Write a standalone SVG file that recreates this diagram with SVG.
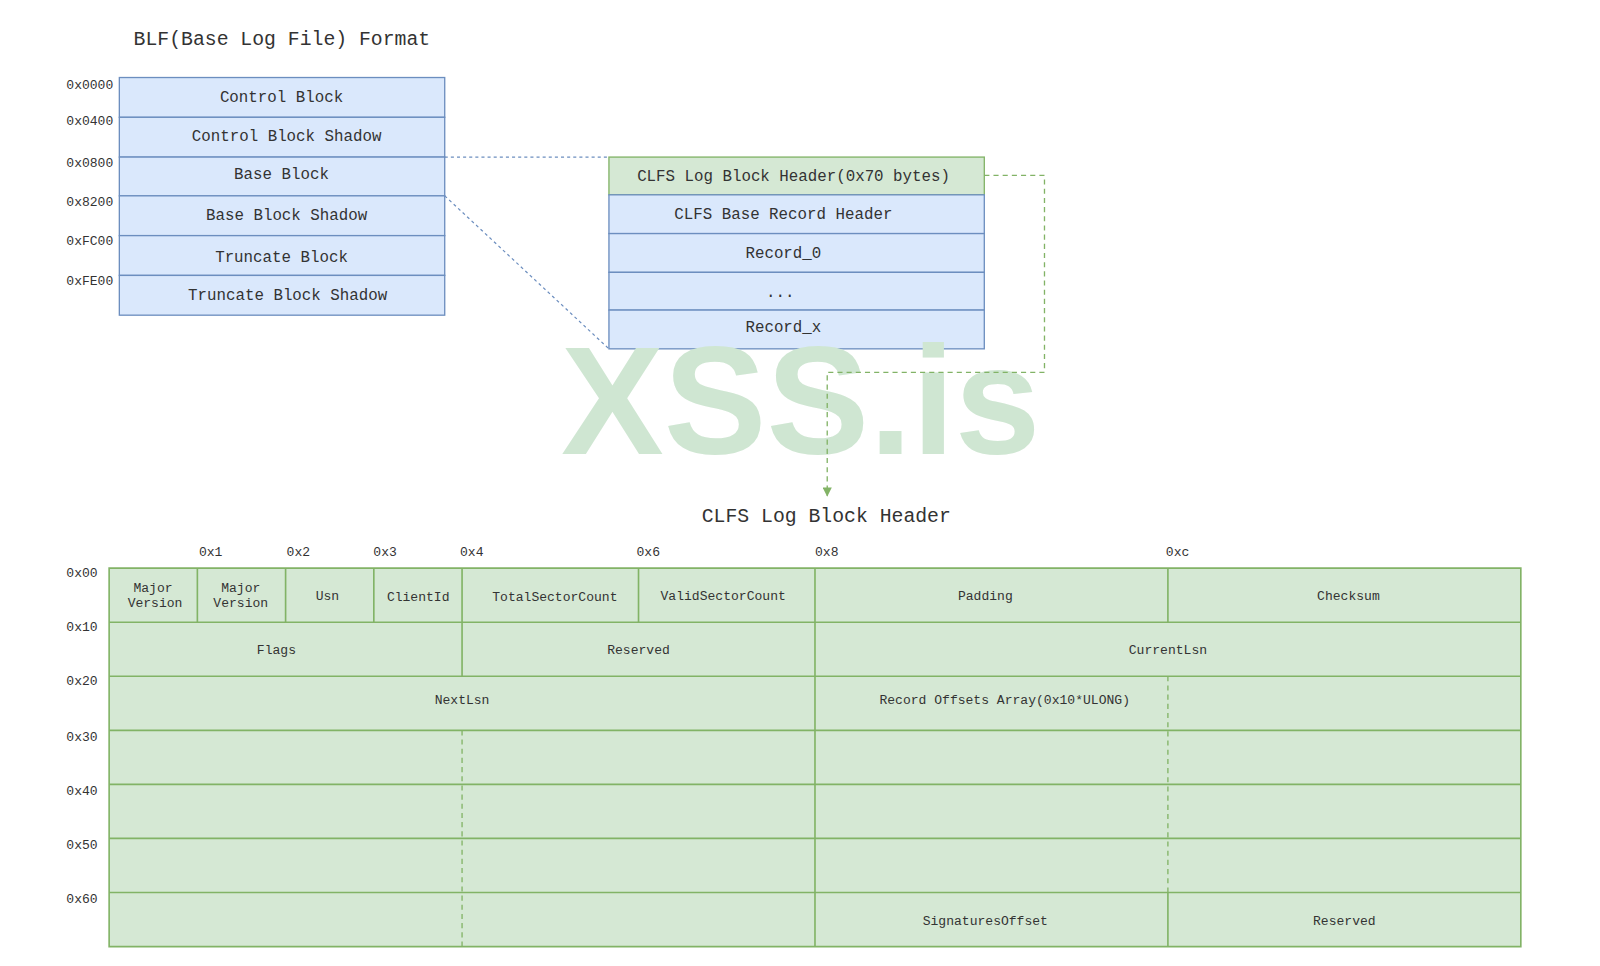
<svg xmlns="http://www.w3.org/2000/svg" width="1600" height="966" viewBox="0 0 1600 966">
<defs>
<style>
.t{font-family:"Liberation Mono","Courier New",monospace;fill:#333333;text-anchor:middle}
.m{font-size:15.5px}
.s{font-size:12.8px}
.l{font-size:12.8px;text-anchor:start}
.h{font-size:19.4px;text-anchor:start}
.blue{fill:#dae8fc;stroke:#6c8ebf;stroke-width:1.3}
.green{fill:#d5e8d4;stroke:#82b366;stroke-width:1.3}
.gl{stroke:#82b366;stroke-width:1.6;fill:none}
.gd{stroke:#82b366;stroke-width:1.3;fill:none;stroke-dasharray:5 4}
.wm{font-family:"Liberation Sans",Arial,sans-serif;font-weight:bold;font-size:151px;fill:#cfe6d2}
</style>
<marker id="ga" viewBox="0 0 10 10" refX="9" refY="5" markerWidth="9" markerHeight="9" markerUnits="userSpaceOnUse" orient="auto">
<path d="M0,0 L10,5 L0,10 z" fill="#82b366"/>
</marker>
</defs>
<rect width="1600" height="966" fill="#ffffff"/>
<g id="diagram" transform="scale(1.02)">

<text class="t h" x="131" y="44">BLF(Base Log File) Format</text>

<g id="blf-offsets" class="t">
<text class="l" x="65" y="87">0x0000</text>
<text class="l" x="65" y="123">0x0400</text>
<text class="l" x="65" y="164">0x0800</text>
<text class="l" x="65" y="202">0x8200</text>
<text class="l" x="65" y="240">0xFC00</text>
<text class="l" x="65" y="279">0xFE00</text>
</g>

<g id="control-block"><rect class="blue" x="117" y="76" width="319" height="39"/><text class="t m" x="276" y="100">Control Block</text></g>
<g id="control-block-shadow"><rect class="blue" x="117" y="115" width="319" height="39"/><text class="t m" x="281" y="138">Control Block Shadow</text></g>
<g id="base-block"><rect class="blue" x="117" y="154" width="319" height="38"/><text class="t m" x="276" y="175">Base Block</text></g>
<g id="base-block-shadow"><rect class="blue" x="117" y="192" width="319" height="39"/><text class="t m" x="281" y="216">Base Block Shadow</text></g>
<g id="truncate-block"><rect class="blue" x="117" y="231" width="319" height="39"/><text class="t m" x="276" y="257">Truncate Block</text></g>
<g id="truncate-block-shadow"><rect class="blue" x="117" y="270" width="319" height="39"/><text class="t m" x="282" y="294">Truncate Block Shadow</text></g>

<g id="clfs-log-block-header-row"><rect class="green" x="597" y="154" width="368" height="37"/><text class="t m" x="778" y="177">CLFS Log Block Header(0x70 bytes)</text></g>
<g id="clfs-base-record-header"><rect class="blue" x="597" y="191" width="368" height="38"/><text class="t m" x="768" y="215">CLFS Base Record Header</text></g>
<g id="record-0"><rect class="blue" x="597" y="229" width="368" height="38"/><text class="t m" x="768" y="253">Record_0</text></g>
<g id="record-ellipsis"><rect class="blue" x="597" y="267" width="368" height="37"/><text class="t m" x="765" y="291">...</text></g>
<g id="record-x"><rect class="blue" x="597" y="304" width="368" height="38"/><text class="t m" x="768" y="325">Record_x</text></g>

<text class="wm" x="550" y="445" textLength="470" lengthAdjust="spacing">XSS.is</text>

<g id="connectors">
<path d="M436,154 L597,154" stroke="#6c8ebf" stroke-width="1.2" stroke-dasharray="3 3" fill="none"/>
<path d="M436,192 L597,342" stroke="#6c8ebf" stroke-width="1.2" stroke-dasharray="3 3" fill="none"/>
<path d="M965,172 L1024,172 L1024,365 L811,365 L811,486" stroke="#82b366" stroke-width="1.3" stroke-dasharray="5 4" fill="none" marker-end="url(#ga)"/>
</g>

<text class="t h" x="688" y="512">CLFS Log Block Header</text>

<g id="column-offsets" class="t">
<text class="l" x="195" y="545">0x1</text>
<text class="l" x="281" y="545">0x2</text>
<text class="l" x="366" y="545">0x3</text>
<text class="l" x="451" y="545">0x4</text>
<text class="l" x="624" y="545">0x6</text>
<text class="l" x="799" y="545">0x8</text>
<text class="l" x="1143" y="545">0xc</text>
</g>
<g id="row-offsets" class="t">
<text class="l" x="65" y="566">0x00</text>
<text class="l" x="65" y="619">0x10</text>
<text class="l" x="65" y="672">0x20</text>
<text class="l" x="65" y="726">0x30</text>
<text class="l" x="65" y="779">0x40</text>
<text class="l" x="65" y="832">0x50</text>
<text class="l" x="65" y="885">0x60</text>
</g>

<g id="header-table">
<rect x="107" y="557" width="1384" height="371" fill="#d5e8d4"/>
<g id="grid">
<path class="gl" d="M107,557 H1491 V928 H107 Z"/>
<path class="gl" d="M107,610 H1491 M107,663 H1491 M107,716 H1491 M107,769 H1491 M107,822 H1491 M107,875 H1491"/>
<path class="gl" d="M193.5,557 V610 M280,557 V610 M366.5,557 V610 M453,557 V663 M626,557 V610 M1145,557 V610 M1145,875 V928 M799,557 V928"/>
<path class="gd" d="M1145,663 V875 M453,716 V928"/>
</g>
<g id="field-major-version-1"><text class="t s" x="150" y="580">Major</text><text class="t s" x="152" y="595">Version</text></g>
<g id="field-major-version-2"><text class="t s" x="236" y="580">Major</text><text class="t s" x="236" y="595">Version</text></g>
<g id="field-usn"><text class="t s" x="321" y="588">Usn</text></g>
<g id="field-clientid"><text class="t s" x="410" y="589">ClientId</text></g>
<g id="field-totalsectorcount"><text class="t s" x="544" y="589">TotalSectorCount</text></g>
<g id="field-validsectorcount"><text class="t s" x="709" y="588">ValidSectorCount</text></g>
<g id="field-padding"><text class="t s" x="966" y="588">Padding</text></g>
<g id="field-checksum"><text class="t s" x="1322" y="588">Checksum</text></g>
<g id="field-flags"><text class="t s" x="271" y="641">Flags</text></g>
<g id="field-reserved-1"><text class="t s" x="626" y="641">Reserved</text></g>
<g id="field-currentlsn"><text class="t s" x="1145" y="641">CurrentLsn</text></g>
<g id="field-nextlsn"><text class="t s" x="453" y="690">NextLsn</text></g>
<g id="field-record-offsets"><text class="t s" x="985" y="690">Record Offsets Array(0x10*ULONG)</text></g>
<g id="field-signaturesoffset"><text class="t s" x="966" y="907">SignaturesOffset</text></g>
<g id="field-reserved-2"><text class="t s" x="1318" y="907">Reserved</text></g>
</g>
</g>
</svg>
